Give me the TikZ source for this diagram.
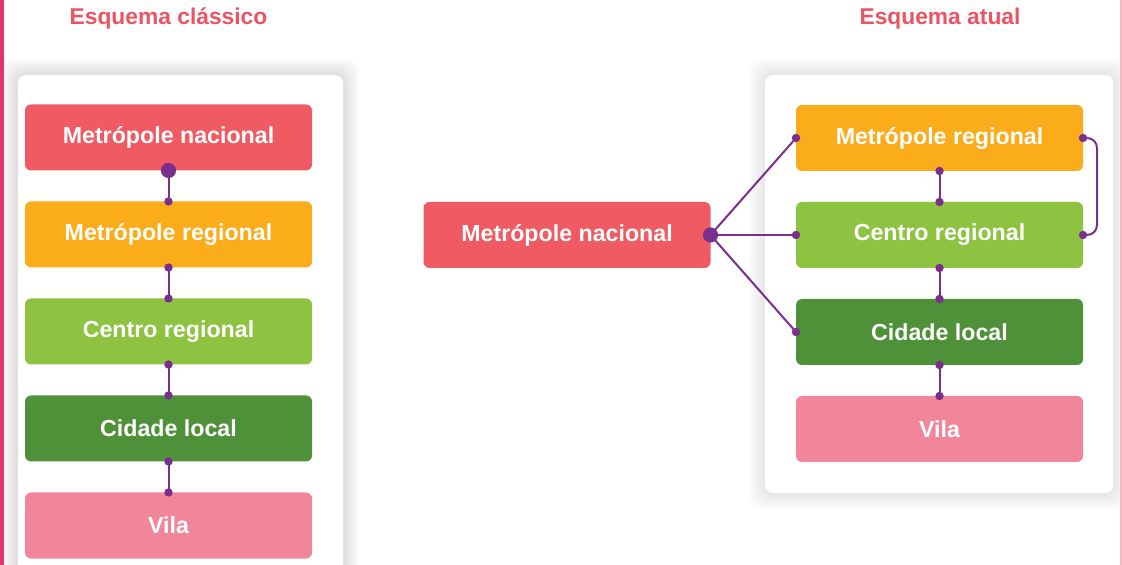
\documentclass[tikz,border=0pt]{standalone}
\usepackage{fontspec}
\setmainfont{Liberation Sans}
\usetikzlibrary{positioning}

\definecolor{nacional}{HTML}{F05A63}
\definecolor{regional}{HTML}{FBAC1A}
\definecolor{centro}{HTML}{8DC341}
\definecolor{local}{HTML}{4F9139}
\definecolor{vila}{HTML}{F1869A}
\definecolor{roxo}{HTML}{7A2E8E}
\definecolor{titulo}{HTML}{EA5463}
\definecolor{borda}{HTML}{E6336F}

\tikzset{
  nivel/.style={rectangle, rounded corners=3pt, minimum width=143.5pt,
    minimum height=33pt, inner sep=0pt, outer sep=0pt, text=white,
    font=\bfseries\fontsize{11.6}{13}\selectfont},
  elo/.style={draw=roxo, line width=1pt},
  titulos/.style={text=titulo, font=\bfseries\fontsize{11.4}{13}\selectfont},
  cartao/.style={fill=white, rounded corners=4pt}
}

\begin{document}
\begin{tikzpicture}[x=0.5pt, y=-0.5pt, node distance=15.5pt]

    % Fix the page size
    \useasboundingbox[fill=white] (0,0) rectangle (1122,565);

    % Soft shadows behind the two cards
    \foreach \s in {1,...,8} {
        \fill[black, opacity=0.014, rounded corners=6pt]
            (18-2*\s,75-2*\s) rectangle (343+2*\s,600);
        \fill[black, opacity=0.012, rounded corners=6pt]
            (765-2*\s,75-2*\s) rectangle (1113+2*\s,493+2*\s);
    }

    % The cards
    \fill[cartao] (18,75) rectangle (343,600);
    \fill[cartao] (765,75) rectangle (1113,493);

    % Edge strips
    \fill[borda] (0,0) rectangle (4,565);
    \fill[vila!60] (1120,0) rectangle (1122,565);

    % Titles
    \node[titulos] (t1) at (168.5,19) {Esquema clássico};
    \node[titulos] (t2) at (940,19) {Esquema atual};

    % Classic scheme
    \node[nivel, fill=nacional] (cn) at (168.5,137.5) {Metrópole nacional};
    \node[nivel, fill=regional, below=of cn] (cr) {Metrópole regional};
    \node[nivel, fill=centro, below=of cr] (cc) {Centro regional};
    \node[nivel, fill=local, below=of cc] (cl) {Cidade local};
    \node[nivel, fill=vila, below=of cl] (cv) {Vila};

    \draw[elo] (cn.south) -- (cr.north);
    \draw[elo] (cr.south) -- (cc.north);
    \draw[elo] (cc.south) -- (cl.north);
    \draw[elo] (cl.south) -- (cv.north);

    \fill[roxo] (cn.south) circle (3.8pt);
    \foreach \n in {cr.north,cr.south,cc.north,cc.south,cl.north,cl.south,cv.north}
        \fill[roxo] (\n) circle (2.1pt);

    % Current scheme
    \node[nivel, fill=nacional] (an) at (567,235) {Metrópole nacional};
    \node[nivel, fill=regional] (ar) at (939.5,138) {Metrópole regional};
    \node[nivel, fill=centro, below=of ar] (ac) {Centro regional};
    \node[nivel, fill=local, below=of ac] (al) {Cidade local};
    \node[nivel, fill=vila, below=of al] (av) {Vila};

    \draw[elo] (an.east) -- (ar.west);
    \draw[elo] (an.east) -- (ac.west);
    \draw[elo] (an.east) -- (al.west);
    \draw[elo] (ar.south) -- (ac.north);
    \draw[elo] (ac.south) -- (al.north);
    \draw[elo] (al.south) -- (av.north);
    \draw[elo, rounded corners=5pt] (ar.east) -- ++(14,0) |- (ac.east);

    \fill[roxo] (an.east) circle (3.8pt);
    \foreach \n in {ar.west,ac.west,al.west,ar.east,ac.east,ar.south,ac.north,
                    ac.south,al.north,al.south,av.north}
        \fill[roxo] (\n) circle (2.1pt);

\end{tikzpicture}
\end{document}
